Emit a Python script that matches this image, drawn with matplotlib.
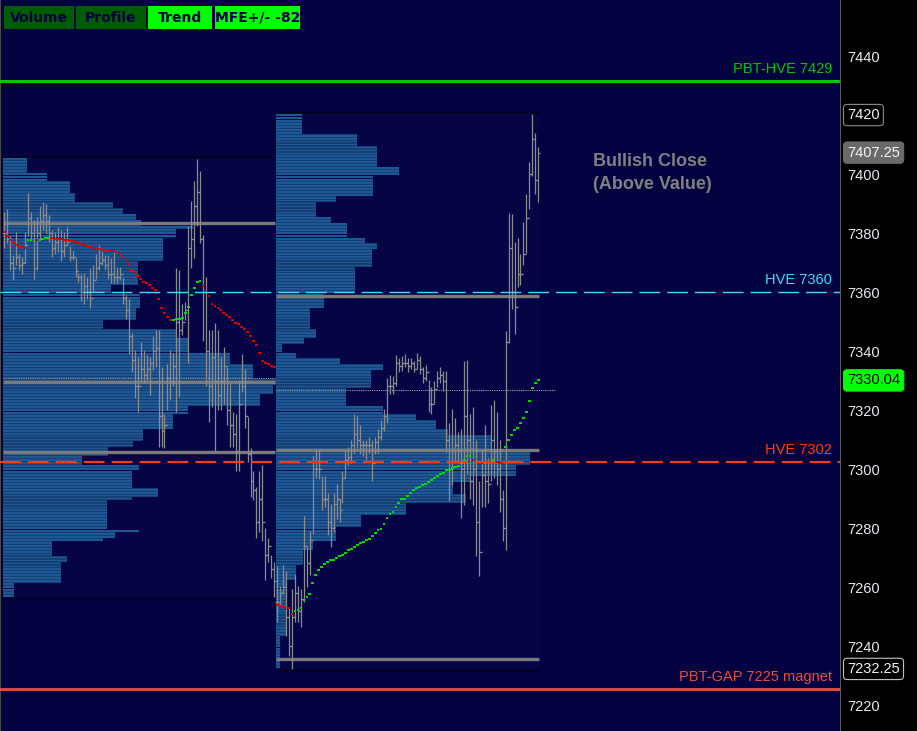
import matplotlib
matplotlib.use("Agg")

import numpy as np
import matplotlib.pyplot as plt
import matplotlib.transforms as mtransforms
from matplotlib.patches import Rectangle

plt.rcParams["font.family"] = ["Liberation Sans", "DejaVu Sans"]

# ---------------- session 1 bars (prior day) ----------------
s1_high = [7387, 7388, 7379, 7372.5, 7380.5, 7373, 7372, 7380.5, 7393.5, 7387,
           7384.5, 7385.5, 7389, 7390.5, 7390, 7386, 7381, 7380.5, 7382, 7381,
           7380.5, 7382, 7375.5, 7374, 7371.5, 7366.5, 7366, 7366.5, 7365, 7368,
           7369, 7373, 7376, 7374, 7372.5, 7372.5, 7371.5, 7373.5, 7368.5, 7368.5,
           7365, 7359, 7357.5, 7346, 7340.5, 7338, 7343, 7340.5, 7338.5, 7338,
           7345, 7347, 7347, 7334.5, 7318.5, 7335.5, 7340.5, 7339.5, 7368, 7367.5,
           7356, 7356.5, 7382.5, 7391, 7397.5, 7405, 7401, 7379.5, 7365, 7347,
           7347, 7349.5, 7347, 7338, 7341.5, 7334.5, 7329, 7319.5, 7318.5, 7330,
           7339, 7334, 7317.5, 7307, 7299.5, 7294, 7299.5, 7301.5, 7280, 7276.5,
           7271, 7268.5]
s1_low = [7375, 7376.5, 7367.5, 7364, 7369, 7367.5, 7366, 7370, 7379, 7378,
          7364.5, 7367.5, 7377.5, 7381, 7380, 7377, 7372, 7373, 7373.5, 7370.5,
          7372, 7375.5, 7370.5, 7371, 7365, 7363.5, 7357, 7356, 7357.5, 7354.5,
          7360.5, 7364.5, 7367.5, 7369, 7367.5, 7364.5, 7363, 7363, 7363, 7364,
          7356, 7351, 7339, 7333, 7324, 7319.5, 7330, 7329, 7330, 7325,
          7333.5, 7334.5, 7307.5, 7307.5, 7307, 7320, 7323.5, 7328, 7319.5, 7324.5,
          7345.5, 7350.5, 7336, 7368, 7371.5, 7382.5, 7376.5, 7343.5, 7328, 7316,
          7321, 7306, 7320, 7320, 7322, 7315, 7307.5, 7307.5, 7299.5, 7299.5,
          7326, 7314, 7302.5, 7290.5, 7289.5, 7276.5, 7278.5, 7275.5, 7262.5, 7268.5,
          7263, 7256.5]
s1_close = [7380, 7378, 7370, 7368, 7372, 7369, 7370, 7376, 7385, 7380,
            7368, 7380, 7384, 7386, 7384, 7380, 7375, 7377, 7378, 7374,
            7376, 7377, 7372, 7372, 7367, 7365, 7360, 7362, 7360, 7358,
            7364, 7368, 7370, 7371, 7369, 7366, 7366, 7365, 7365, 7366,
            7358, 7354, 7345, 7337, 7328, 7328, 7334, 7332, 7334, 7336,
            7340, 7341, 7318, 7313, 7315, 7331, 7330, 7335, 7350, 7347,
            7350, 7354, 7375, 7378, 7389, 7394, 7378, 7360, 7340, 7328,
            7338, 7330, 7325, 7330, 7335, 7320, 7315, 7312, 7306, 7322,
            7328, 7318, 7305, 7296, 7293, 7282, 7290, 7282, 7271, 7274,
            7266, 7262]
s1_vwap = [7380.5, 7379, 7377.5, 7376.5, 7376, 7375.5, 7375.2, 7375, 7377.5, 7377.8,
           7377.8, 7377.6, 7377.7, 7378, 7378.2, 7378.3, 7378.2, 7378.1, 7378, 7377.9,
           7377.8, 7377.6, 7377.4, 7377.2, 7376.9, 7376.6, 7376.2, 7375.8, 7375.5, 7375.2,
           7374.8, 7374.6, 7374.5, 7374.4, 7374.3, 7374.2, 7374, 7373.8, 7373.5, 7373,
           7372, 7371, 7369.5, 7367.5, 7366.5, 7365.5, 7364.5, 7363.5, 7363, 7362.5,
           7361.5, 7360.8, 7357.5, 7354.5, 7353, 7351.5, 7350.5, 7350.6, 7350.8, 7351,
           7351.2, 7353, 7355, 7359, 7361.5, 7363.5, 7363.6, 7362, 7360, 7358.5,
           7356, 7355.3, 7354.5, 7353.8, 7353, 7352.3, 7351.6, 7350.6, 7349.5, 7349,
           7348.3, 7347.5, 7346.3, 7345, 7343.3, 7342, 7339.5, 7336.5, 7336, 7335.5,
           7335, 7334.5]

# ---------------- session 2 bars (current day) ----------------
s2_high = [7267, 7260.5, 7267.5, 7265.5, 7253, 7259.5, 7264.5, 7260.5, 7259.5, 7284,
           7273.5, 7279, 7304.5, 7306.5, 7306.5, 7297.5, 7297.5, 7292, 7288, 7292,
           7295, 7290, 7299.5, 7306.5, 7307.5, 7310, 7318.5, 7318, 7315, 7310,
           7310, 7311, 7310, 7311, 7313.5, 7316.5, 7320.5, 7331, 7332, 7331.5,
           7338.5, 7337.5, 7338.3, 7339, 7337.7, 7337.7, 7336.5, 7339.5, 7338.3, 7334.6,
           7335.2, 7330.3, 7327.8, 7329.7, 7333.4, 7334.6, 7333.4, 7333.4, 7315.5, 7320.5,
           7317.4, 7312.4, 7313.7, 7336.5, 7337.1, 7318.6, 7321.1, 7310, 7295.8, 7306.9,
           7314.9, 7303.8, 7321.7, 7323.5, 7319.2, 7310, 7292.8, 7346.9, 7386.9, 7386.3,
           7377.1, 7378.3, 7372.8, 7383.8, 7393.1, 7404.2, 7420.2, 7414, 7409.1]
s2_low = [7248, 7253.5, 7257.5, 7243.5, 7236.5, 7232.25, 7248, 7248, 7246.5, 7255,
          7260, 7264, 7278, 7297, 7296.5, 7286, 7287, 7277.5, 7273.5, 7278.5,
          7283, 7282, 7288.5, 7297, 7301.5, 7302, 7305.5, 7307, 7305, 7304.5,
          7303, 7305.5, 7296, 7305, 7305.5, 7310, 7313, 7315.5, 7325.5, 7325.5,
          7328, 7332.8, 7333.4, 7334.5, 7332.8, 7334, 7332.8, 7334, 7332.2, 7329,
          7329.7, 7319.2, 7318.6, 7322.3, 7327.8, 7329, 7326.6, 7305.7, 7289.1, 7294.6,
          7302, 7302, 7283.5, 7287.8, 7298.3, 7289.7, 7287.8, 7270.6, 7263.8, 7287.2,
          7287.2, 7288.5, 7295.8, 7297.1, 7294.6, 7285.4, 7275.5, 7272.5, 7342.6, 7354.3,
          7345.7, 7361.7, 7362.3, 7369.1, 7373.4, 7388.2, 7399.2, 7393.1, 7390.6]
s2_close = [7255, 7258, 7260, 7250, 7240, 7250, 7258, 7252, 7256, 7274,
            7268, 7276, 7300, 7300, 7300, 7290, 7290, 7282, 7280, 7288,
            7290, 7286, 7297, 7303, 7304, 7308, 7312, 7310, 7308, 7308,
            7308, 7308, 7302, 7309, 7311, 7314, 7318, 7328, 7328, 7329,
            7336, 7335, 7336, 7336, 7335, 7336, 7334, 7337, 7334, 7331,
            7333, 7322, 7322, 7327, 7331, 7332, 7330, 7310, 7300, 7306,
            7308, 7306, 7300, 7318, 7310, 7296, 7300, 7282, 7272, 7298,
            7296, 7295, 7310, 7306, 7300, 7290, 7280, 7343, 7375, 7360,
            7355, 7366, 7366, 7373, 7385, 7400, 7412, 7398, 7407.25]
s2_vwap = [7254.0, 7253.7, 7253.4, 7253.0, 7252.8, 7250.9, 7251.8, 7252.1, 7252.8, 7255.5,
           7256.5, 7257.7, 7261.4, 7264.2, 7265.8, 7266.8, 7267.9, 7268.5, 7269.0, 7269.3,
           7269.9, 7270.5, 7271.0, 7271.5, 7272.5, 7273.0, 7273.7, 7274.2, 7274.9, 7275.3,
           7275.9, 7276.4, 7277.4, 7278.3, 7279.2, 7279.8, 7281.4, 7283.5, 7284.8, 7285.6,
           7287.2, 7288.5, 7289.7, 7289.9, 7290.9, 7291.8, 7292.8, 7293.6, 7293.9, 7294.6,
           7294.9, 7295.6, 7296.3, 7297.1, 7297.7, 7298.3, 7298.5, 7299.8, 7299.8, 7300.5,
           7300.8, 7301.1, 7302.0, 7303.2, 7304.5, 7304.5, 7303.2, 7302.4, 7302.3, 7302.0,
           7302.2, 7302.4, 7302.5, 7302.9, 7302.5, 7302.2, 7302.1, 7307.4, 7310.0, 7311.6,
           7313.3, 7313.9, 7315.5, 7317.4, 7319.2, 7323.2, 7327.5, 7329.3, 7330.04]

# ---------------- volume profiles: block floor price -> volume ----------------
p1_top = 7405
p1_floor = [7401, 7398, 7394, 7391, 7389, 7387, 7385, 7383, 7382, 7379, 7371, 7363, 7360, 7355,
            7351, 7348, 7345, 7340, 7336, 7331, 7329, 7326, 7322, 7319, 7314, 7310, 7308, 7305,
            7302, 7300, 7294, 7291, 7290, 7280, 7279, 7277, 7276, 7271, 7269, 7262, 7257]
p1_vol = [24, 44, 67, 72, 110, 120, 133, 138, 190, 173, 160, 135, 108, 137,
          133, 100, 173, 185, 227, 250, 277, 270, 257, 185, 170, 140, 130, 105,
          79, 136, 129, 155, 129, 104, 136, 112, 100, 49, 64, 58, 11]
p2_top = 7420
p2_floor = [7414, 7410, 7403, 7400, 7393, 7391, 7386, 7384, 7379, 7377, 7375, 7369, 7360, 7355,
            7348, 7345, 7343, 7340, 7338, 7336, 7334, 7328, 7327, 7322, 7319, 7317, 7314, 7312,
            7307, 7302, 7298, 7296, 7292, 7289, 7285, 7281, 7276, 7273, 7268, 7263, 7244, 7233]
p2_vol = [26, 81, 101, 123, 97, 60, 40, 55, 71, 89, 101, 96, 79, 48,
          34, 40, 28, 6, 20, 64, 107, 95, 70, 70, 107, 140, 160, 172,
          215, 254, 240, 194, 177, 190, 130, 85, 60, 37, 27, 20, 10, 4]

# value area / poc levels per session
s1_va = [7383.3, 7329.4, 7305.8]
s1_poc = 7331
s2_va = [7358.6, 7306.5, 7235.5]
s2_poc = 7326.8

# reference levels
level_price = [7431.5, 7360, 7302.5, 7225.5]
level_text = ["PBT-HVE 7429", "HVE 7360", "HVE 7302", "PBT-GAP 7225 magnet"]
level_color = ["#00c800", "#3cdcfa", "#ff3a14", "#f04a3a"]

buttons = ["Volume", "Profile", "Trend", "MFE+/- -82"]
price_tags = [7420, 7407.25, 7330.04, 7232.25]
note_lines = ["Bullish Close", "(Above Value)"]

# ---------------- figure ----------------
W, H = 917, 731
PX = 2.967  # pixels per bar slot
BG = "#020240"

fig = plt.figure(figsize=(W / 100, H / 100), dpi=100, facecolor="black")
ax = fig.add_axes([0, 0, 840 / W, 1])
ax.set_facecolor(BG)
ax.set_xlim(-1.45, 281.7)
ax.set_ylim(7211.2, 7459.0)
blend = mtransforms.blended_transform_factory(ax.transAxes, ax.transData)

n1, n2 = len(s1_high), len(s2_high)
x1 = np.arange(n1)
x2 = np.arange(n2) + n1


def draw_session(x, hi, lo, cl, vw, floor, vol, top, va, poc, poc_end):
    hi, lo, cl, vw = map(np.asarray, (hi, lo, cl, vw))
    left, right = x[0] - 0.45, x[-1] + 0.4
    ptop, pbot = hi.max() + 0.8, lo.min() - 0.3
    ax.add_patch(Rectangle((left, pbot), right - left, ptop - pbot,
                           facecolor="#050546", edgecolor="none", zorder=0.5))
    ax.hlines([ptop, pbot], left, right, color="#000010", lw=1.0, zorder=1)

    # profile rows, one per point
    floor = np.asarray(floor, float)
    rows = np.arange(floor[-1], top + 0.5, 1.0)
    idx = np.array([np.argmax(p >= floor) for p in rows])
    w = np.asarray(vol, float)[idx] / PX
    ax.barh(rows, w, left=left, height=0.98, color="#163f74", lw=0, zorder=1)
    ax.barh(rows, w, left=left, height=0.6, color="#1e5796", lw=0, zorder=1.1)

    ax.hlines(va, left, right, color="#7a7a7a", lw=2.4, zorder=2)
    ax.hlines(poc, left, poc_end, color="#a0a0a0", lw=0.8,
              linestyles=(0, (1, 1)), zorder=2)

    # OHLC bars
    op = np.r_[cl[0], cl[:-1]]
    ax.vlines(x, lo, hi, color="#8c8c8c", lw=0.9, zorder=3)
    ax.hlines(cl, x, x + 0.7, color="#8c8c8c", lw=0.9, zorder=3)
    ax.hlines(op, x - 0.7, x, color="#8c8c8c", lw=0.9, zorder=3)

    # vwap dots, green when rising, red when falling
    d = np.r_[-1, np.diff(vw)]
    cols = np.where(d >= 0, "#00e000", "#e00000")
    ax.scatter(x, vw, marker="_", s=4, linewidths=1.4, c=cols, zorder=4)


draw_session(x1, s1_high, s1_low, s1_close, s1_vwap, p1_floor, p1_vol, p1_top,
             s1_va, s1_poc, x1[-1] + 0.4)
draw_session(x2, s2_high, s2_low, s2_close, s2_vwap, p2_floor, p2_vol, p2_top,
             s2_va, s2_poc, x2[-1] + 5.5)

# reference levels
ax.axhline(level_price[0], color=level_color[0], lw=2.2, zorder=5)
ax.axhline(level_price[1], color=level_color[1], lw=1.0, dashes=(15, 5), zorder=5)
ax.axhline(level_price[2], color=level_color[2], lw=1.5, dashes=(10, 3.4), zorder=5)
ax.axhline(level_price[3], color=level_color[3], lw=2.0, zorder=5)
for p, t, c in zip(level_price, level_text, level_color):
    ax.text(0.9905, p + 4.1, t, transform=blend, ha="right", va="center",
            color=c, fontsize=10.5, zorder=6)

for yp, line in zip([7404.1, 7396.3], note_lines):
    ax.text(593 / 840, yp, line, transform=blend, color="#808080",
            fontsize=13, fontweight="bold", va="center", ha="left")

# right price axis
ax.yaxis.tick_right()
ax.set_yticks(np.arange(7220, 7441, 20))
ax.tick_params(axis="y", length=0, pad=5, labelsize=10.5, labelcolor="#e6e6ee")
ax.set_xticks([])
for side in ["top", "bottom"]:
    ax.spines[side].set_visible(False)
ax.spines["right"].set_color("#5a5a5a")
ax.spines["left"].set_color("#4a4a4a")

tag_style = [("black", "#f0f0f0", "#8a8a8a"), ("#6a6a6a", "#f4f4f4", "#6a6a6a"),
             ("#00ff00", "black", "#00ff00"), ("black", "#f0f0f0", "#c0c0c0")]
for p, (fc, tc, ec) in zip(price_tags, tag_style):
    ax.text(1.0085, p, f"{p:g}", transform=blend,
            ha="left", va="center", color=tc, fontsize=10.5, zorder=7,
            bbox=dict(boxstyle="round,pad=0.25", fc=fc, ec=ec, lw=0.8))

# toolbar buttons
btn_x = [(4, 74), (76, 146), (148, 212), (215, 300)]
btn_fc = ["#005c00", "#005c00", "#00ff00", "#00ff00"]
for label, (xa, xb), fc in zip(buttons, btn_x, btn_fc):
    fig.add_artist(Rectangle((xa / W, 1 - 29 / H), (xb - xa) / W, 23 / H,
                             transform=fig.transFigure, facecolor=fc,
                             edgecolor="none", zorder=8))
    fig.text((xa + xb) / 2 / W, 1 - 17.5 / H, label, ha="center", va="center",
             color="#000040", fontsize=10, fontweight="bold",
             family="DejaVu Sans", zorder=9)

fig.savefig("out.png", dpi=100, facecolor="black")
